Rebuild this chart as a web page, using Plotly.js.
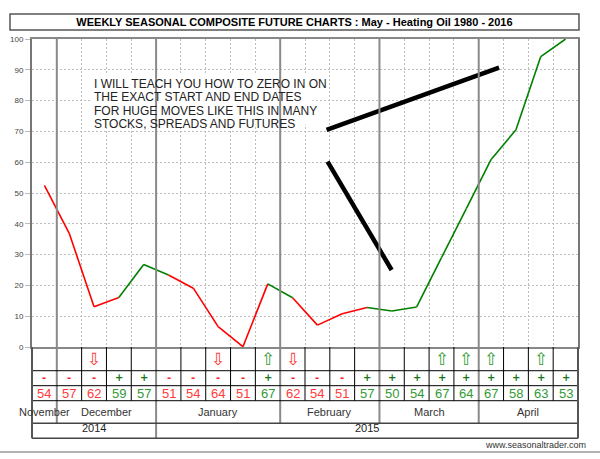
<!DOCTYPE html>
<html><head><meta charset="utf-8">
<script src="https://cdn.plot.ly/plotly-3.0.1.min.js"></script>
<style>html,body{margin:0;padding:0;background:#fff}</style>
</head><body><div id="chart" style="width:600px;height:459px"></div>
<script>
// ---- data ----
const values = [52.5, 36.9, 13.1, 16.1, 26.8, 23.4, 19.1, 6.6, 0.1, 20.5, 16.0, 7.1, 10.8, 12.8, 11.7, 13.0, 29.0, 44.9, 60.9, 70.5, 94.3, 100];
const signs  = ['-','-','-','+','+','-','-','-','-','+','-','-','-','+','+','+','+','+','+','+','+','+'];
const pcts   = [54, 57, 62, 59, 57, 51, 54, 64, 51, 67, 62, 54, 51, 57, 50, 54, 67, 64, 67, 58, 63, 53];
const arrows = ['','','down','','','','','down','','up','down','','','','','','up','up','up','','up',''];
const months = ['November','December','January','February','March','April'];
const monthStart = [0, 1, 5, 10, 14, 18];
const years = ['2014','2015'];
const yearStart = [0, 5];
const titleText = 'WEEKLY SEASONAL COMPOSITE FUTURE CHARTS : May - Heating Oil 1980 - 2016';
const noteLines = ['I WILL TEACH YOU HOW TO ZERO IN ON','THE EXACT START AND END DATES','FOR HUGE MOVES LIKE THIS IN MANY','STOCKS, SPREADS AND FUTURES'];
const drawnX = [[11.37, 18.32], [11.41, 13.99]];
const drawnY = [[70.5, 90.7], [60.2, 25.0]];
const siteText = 'www.seasonaltrader.com';

// ---- styling ----
const RED = '#ff0000', GREEN = '#008000';
const TXT_RED = '#ff3b3b', TXT_GREEN = '#349a34';
const FONT = 'Arial, "Liberation Sans", sans-serif';
const nCols = values.length;
// table row boundaries (paper y)
const rowY = {top: 0, sign: -0.077, num: -0.1256, month: -0.1744, year: -0.2477, bottom: -0.2964};

// ---- traces ----
function segTrace(sign, color) {
  const xs = [], ys = [];
  for (let i = 0; i < nCols - 1; i++) {
    if (signs[i] === sign) { xs.push(i, i + 1, null); ys.push(values[i], values[i + 1], null); }
  }
  return {x: xs, y: ys, type: 'scatter', mode: 'lines', line: {color: color, width: 1.6}, hoverinfo: 'skip', showlegend: false};
}
const traces = [segTrace('-', RED), segTrace('+', GREEN)];
drawnX.forEach((xx, k) => traces.push({x: xx, y: drawnY[k], type: 'scatter', mode: 'lines', line: {color: '#000', width: 4.5}, hoverinfo: 'skip', showlegend: false, cliponaxis: false}));

// ---- shapes ----
const shapes = [];
// white box behind the note
shapes.push({type: 'rect', xref: 'x', yref: 'y', x0: 1.92, x1: 10.8, y0: 72.2, y1: 88.8, fillcolor: '#fff', line: {width: 0}, layer: 'above'});
const monthBounds = monthStart.slice(1).map(s => s - 0.5);
const yearBounds = yearStart.slice(1).map(s => s - 0.5);
for (let k = 1; k < nCols; k++) {
  const b = k - 0.5;
  if (monthBounds.includes(b)) continue;
  shapes.push({type: 'line', xref: 'x', yref: 'paper', x0: b, x1: b, y0: rowY.top, y1: rowY.month, line: {color: '#000', width: 1}, layer: 'above'});
}
monthBounds.forEach(b => {
  const yb = yearBounds.includes(b) ? rowY.bottom : rowY.year;
  shapes.push({type: 'line', xref: 'x', yref: 'paper', x0: b, x1: b, y0: 1, y1: yb, line: {color: '#8a8a8a', width: 2}, layer: 'above'});
});
[rowY.sign, rowY.num, rowY.month, rowY.year, rowY.bottom].forEach((yy, i) => {
  shapes.push({type: 'line', xref: 'paper', yref: 'paper', x0: 0, x1: 1, y0: yy, y1: yy, line: {color: i < 3 ? '#000' : '#444', width: i < 3 ? 1 : 1.5}, layer: 'above'});
});
[0, 1].forEach(px => shapes.push({type: 'line', xref: 'paper', yref: 'paper', x0: px, x1: px, y0: 0, y1: rowY.bottom, line: {color: '#555', width: 2}, layer: 'above'}));
// title box
shapes.push({type: 'rect', xref: 'paper', yref: 'paper', x0: -0.0403, x1: 1.0018, y0: 1.0292, y1: 1.0812, line: {color: '#555', width: 1.5}, fillcolor: 'rgba(0,0,0,0)'});
// bottom rule
shapes.push({type: 'line', xref: 'paper', yref: 'paper', x0: -0.06, x1: 1.05, y0: -0.3409, y1: -0.3409, line: {color: '#9a9a9a', width: 1.5}});

// ---- annotations ----
const ann = [];
arrows.forEach((a, i) => {
  if (!a) return;
  ann.push({x: i, y: -0.039, xref: 'x', yref: 'paper', text: a === 'down' ? '⇩' : '⇧', showarrow: false,
    font: {family: '"DejaVu Sans", sans-serif', size: 17, color: a === 'down' ? TXT_RED : TXT_GREEN}, yanchor: 'middle'});
});
signs.forEach((s, i) => ann.push({x: i, y: -0.1006, xref: 'x', yref: 'paper', text: '<b>' + s + '</b>', showarrow: false,
  font: {family: '"DejaVu Sans", sans-serif', size: 10, color: s === '-' ? '#ff2020' : '#137513', weight: 'bold'}, yanchor: 'middle'}));
pcts.forEach((p, i) => ann.push({x: i, y: -0.151, xref: 'x', yref: 'paper', text: String(p), showarrow: false,
  font: {family: FONT, size: 13, color: signs[i] === '-' ? TXT_RED : TXT_GREEN}, yanchor: 'middle'}));
months.forEach((m, k) => {
  const end = k + 1 < monthStart.length ? monthStart[k + 1] : nCols;
  ann.push({x: (monthStart[k] + end - 1) / 2, y: -0.211, xref: 'x', yref: 'paper', text: m, showarrow: false,
    font: {family: FONT, size: 11, color: '#333'}, yanchor: 'middle'});
});
years.forEach((yv, k) => {
  const end = k + 1 < yearStart.length ? yearStart[k + 1] : nCols;
  ann.push({x: (yearStart[k] + end - 1) / 2, y: -0.2614, xref: 'x', yref: 'paper', text: yv, showarrow: false,
    font: {family: FONT, size: 11, color: '#222'}, yanchor: 'middle'});
});
noteLines.forEach((t, k) => ann.push({x: 1.93, y: 85.4 - k * 4.35, xref: 'x', yref: 'y', text: t, showarrow: false,
  xanchor: 'left', yanchor: 'middle', font: {family: FONT, size: 12, color: '#222'}}));
ann.push({x: 1.0183, y: -0.318, xref: 'paper', yref: 'paper', text: siteText, showarrow: false, xanchor: 'right', yanchor: 'middle',
  font: {family: FONT, size: 9, color: '#333'}});

const bounds = [];
for (let k = 0; k <= nCols; k++) bounds.push(k - 0.5);

const layout = {
  width: 600, height: 459,
  margin: {l: 32, r: 22, t: 39, b: 112, pad: 0},
  paper_bgcolor: '#fff', plot_bgcolor: '#fff',
  showlegend: false,
  title: {text: '<b>' + titleText + '</b>', x: 0.4908, xanchor: 'center', y: 1 - 22 / 459, yanchor: 'middle', xref: 'container', yref: 'container',
    font: {family: FONT, size: 11, color: '#000'}},
  xaxis: {range: [-0.5, nCols - 0.5], tickvals: bounds, showticklabels: false, ticks: '', showgrid: true, gridcolor: '#bdbdbd', griddash: '2px,2px', gridwidth: 1,
    showline: true, linecolor: '#888', linewidth: 2, mirror: true, zeroline: false, fixedrange: true},
  yaxis: {range: [0, 100], dtick: 10, tick0: 0, ticks: 'outside', ticklen: 5, tickcolor: '#bbb', showgrid: true, gridcolor: '#bdbdbd', griddash: '2px,2px', gridwidth: 1,
    showline: true, linecolor: '#777', linewidth: 2, mirror: true, zeroline: false, fixedrange: true,
    tickfont: {family: FONT, size: 8, color: '#444'}},
  shapes: shapes,
  annotations: ann
};
Plotly.newPlot('chart', traces, layout, {displayModeBar: false, staticPlot: true});
</script>
</body></html>
